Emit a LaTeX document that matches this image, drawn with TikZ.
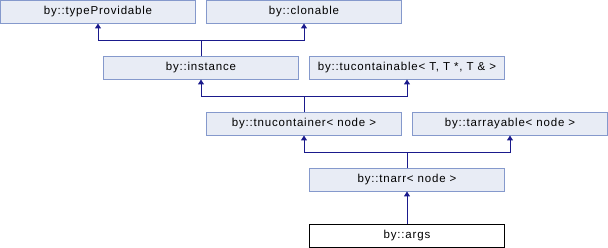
\documentclass[tikz,border=0pt]{standalone}
\usepackage{fontspec}
\setmainfont{Liberation Sans}
\newfontfamily\dxfont[LetterSpace=7]{Liberation Sans}
\usetikzlibrary{arrows.meta}
\definecolor{boxfill}{HTML}{E8ECF5}
\definecolor{boxline}{HTML}{8599CC}
\definecolor{edgecol}{HTML}{1A1A8C}
\begin{document}
\begin{tikzpicture}[x=1pt,y=-1pt,
  cls/.style={draw=boxline,fill=boxfill,line width=1pt,minimum width=195pt,minimum height=23pt,inner sep=0pt,outer sep=0pt,font=\dxfont\fontsize{11.5}{14}\selectfont},
  cur/.style={cls,draw=black,fill=white},
  inh/.style={draw=edgecol,line width=1pt,-{Triangle[length=5pt,width=6pt]}}]
\useasboundingbox (0,0) rectangle (608,248);
\node[cls] (tp)   at (98,12)  {by::typeProvidable};
\node[cls] (cl)   at (304,12) {by::clonable};
\node[cls] (inst) at (201,68) {by::instance};
\node[cls] (tuc)  at (407,68) {by::tucontainable< T, T *, T \& >};
\node[cls] (tnuc) at (304,124) {by::tnucontainer< node >};
\node[cls] (tarr) at (510,124) {by::tarrayable< node >};
\node[cls] (tnarr) at (407,180) {by::tnarr< node >};
\node[cur] (args) at (407,236) {by::args};
\coordinate (b1) at (201,40.5);
\coordinate (b2) at (304,96.5);
\coordinate (b3) at (407,152.5);
\draw[edgecol,line width=1pt] (inst.north) -- (b1);
\draw[inh] (b1) -| (tp.south);
\draw[inh] (b1) -| (cl.south);
\draw[edgecol,line width=1pt] (tnuc.north) -- (b2);
\draw[inh] (b2) -| (inst.south);
\draw[inh] (b2) -| (tuc.south);
\draw[edgecol,line width=1pt] (tnarr.north) -- (b3);
\draw[inh] (b3) -| (tnuc.south);
\draw[inh] (b3) -| (tarr.south);
\draw[inh] (args.north) -- (tnarr.south);
\end{tikzpicture}
\end{document}
